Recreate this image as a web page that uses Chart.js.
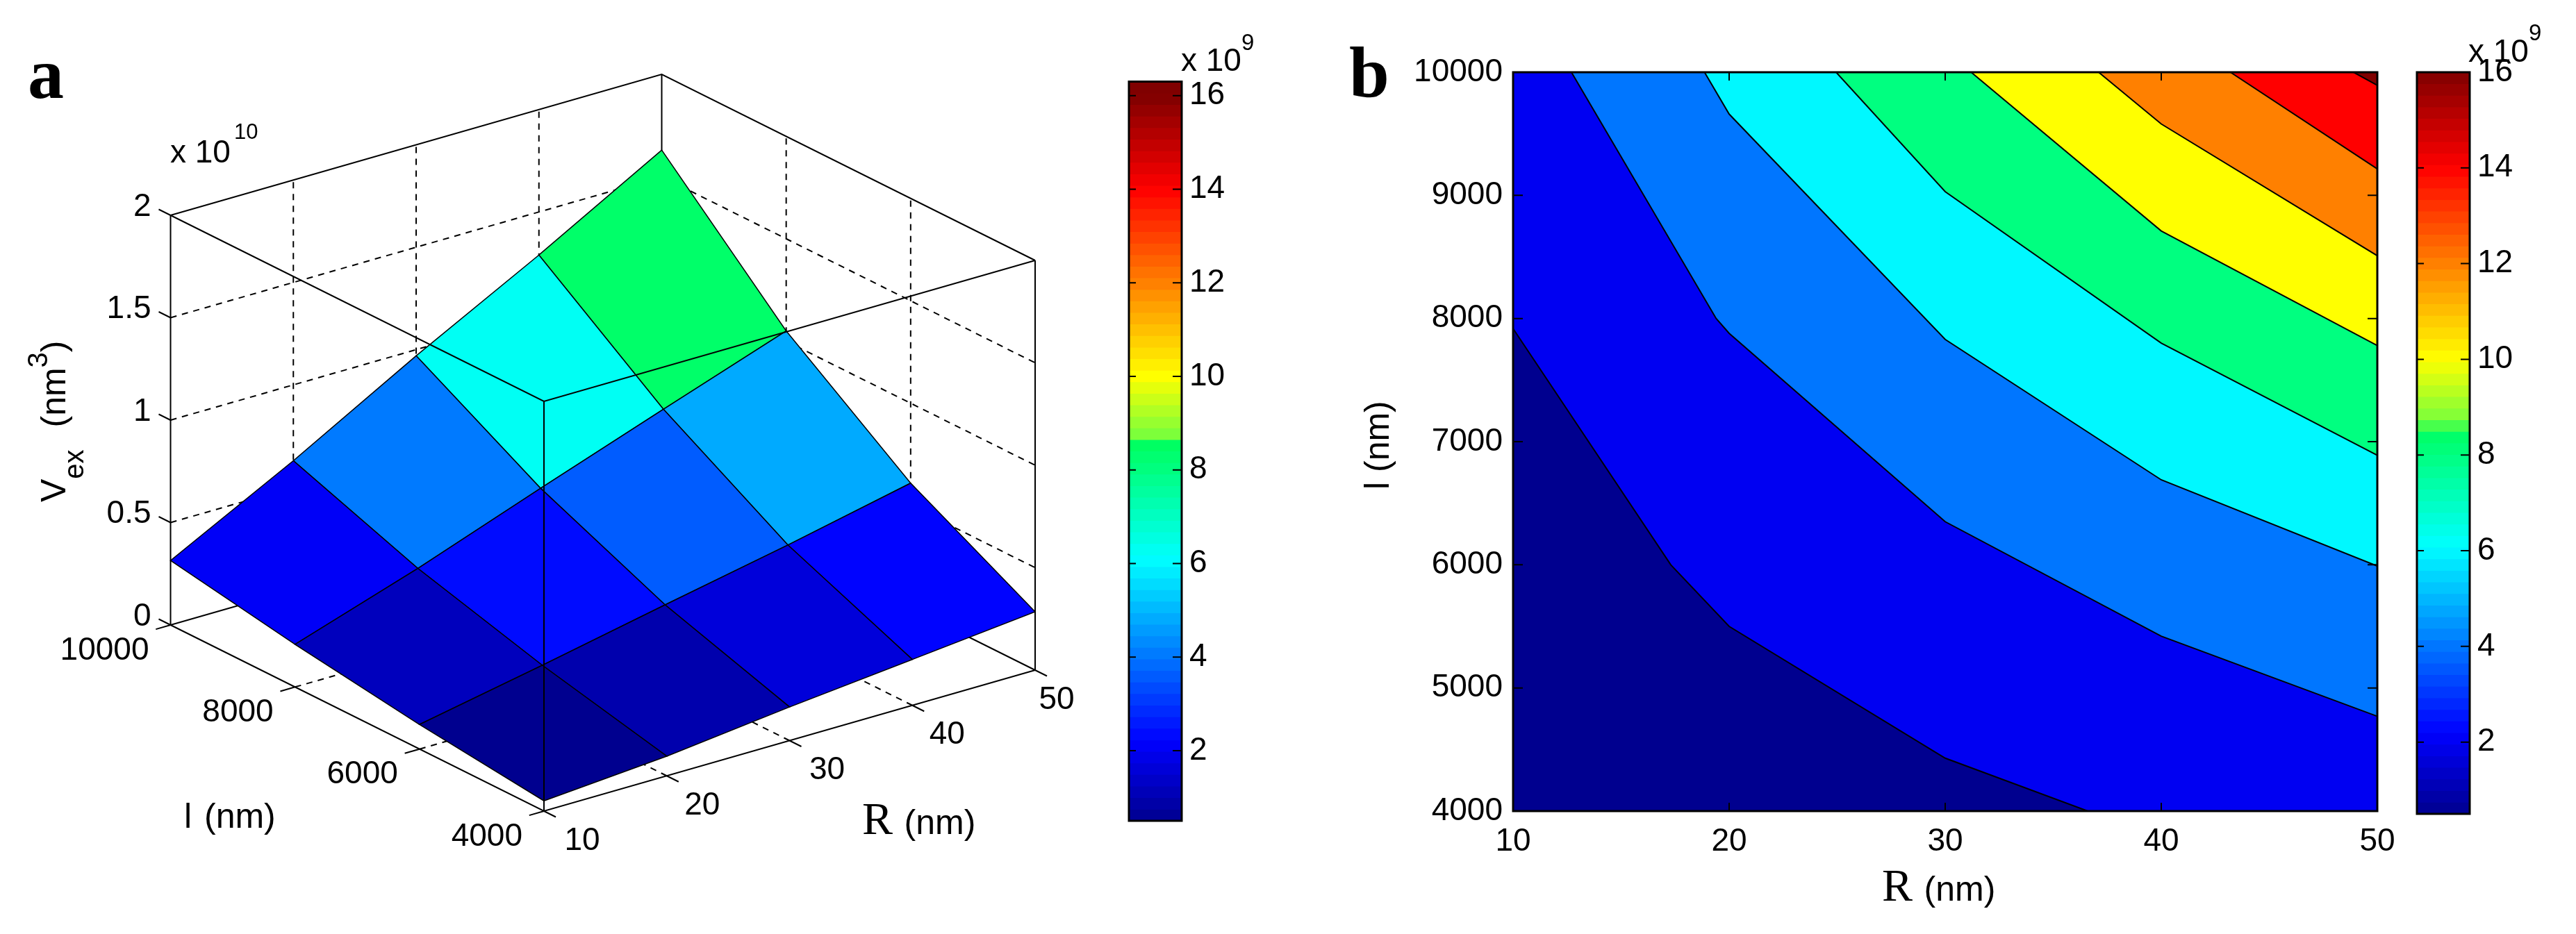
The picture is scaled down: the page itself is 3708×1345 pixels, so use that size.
<!DOCTYPE html>
<html>
<head>
<meta charset="utf-8">
<title>Vex surface and contour</title>
<script src="https://cdn.jsdelivr.net/npm/chart.js@4"></script>
<style>
  html, body { margin: 0; background: #fff; width: 3708px; height: 1345px; overflow: hidden; }
  canvas { position: absolute; }
  .t { position: absolute; white-space: nowrap; line-height: 1; color: #000; font-family: "Liberation Sans", sans-serif; }
  .t sup, .t sub { line-height: 0; }
  .letter { font: bold 104px/1 "Liberation Serif", serif; }
  .rlab { font: 66px/1 "Liberation Serif", serif; }
  .rlab span { font: 50px/1 "Liberation Sans", sans-serif; }
</style>
</head>
<body>
<canvas id="surface" width="1600" height="1345" style="left:0;top:0"></canvas>
<canvas id="barA" width="260" height="1172" style="left:1610px;top:60px"></canvas>
<canvas id="contour" width="1490" height="1280" style="left:1990px;top:60px"></canvas>
<canvas id="barB" width="243" height="1172" style="left:3465px;top:50px"></canvas>

<div class="t letter" style="left:40px;top:54px">a</div>
<div class="t letter" style="left:1942px;top:52px">b</div>

<div class="t" style="left:245px;top:190px;font-size:46px">x 10<sup style="font-size:31px;vertical-align:34px;margin-left:5px">10</sup></div>
<div class="t" style="left:1700px;top:61px;font-size:46px">x 10<sup style="font-size:33px;vertical-align:30px">9</sup></div>
<div class="t" style="left:3553px;top:47px;font-size:46px">x 10<sup style="font-size:33px;vertical-align:31px">9</sup></div>

<div class="t" style="left:51.5px;top:723px;font-size:50px;word-spacing:18px;transform-origin:0 0;transform:rotate(-90deg)">V<sub style="font-size:40px;vertical-align:-26px">ex</sub> (nm<sup style="font-size:40px;vertical-align:26px">3</sup>)</div>
<div class="t" style="left:265px;top:1150px;font-size:50px;word-spacing:4px">l (nm)</div>
<div class="t rlab" style="left:1241px;top:1146px">R <span>(nm)</span></div>

<div class="t" style="left:1956.5px;top:705px;font-size:50px;transform-origin:0 0;transform:rotate(-90deg)">l (nm)</div>
<div class="t rlab" style="left:2709px;top:1242px">R <span>(nm)</span></div>

<script>
// grid of the surface (panel a)
const radius = [10, 20, 30, 40, 50];
const lengths = [4000, 6000, 8000, 10000];
// Vex in units of 1e9 nm3, one row per length
const vex4000 = [0.5, 0.96, 1.64, 2.24, 2.85];
const vex6000 = [1.2, 2.37, 3.6, 4.8, 6.1];
const vex8000 = [2.08, 4.07, 6.26, 8.4, 10.5];
const vex10000 = [3.15, 6.3, 9.7, 12.9, 16.3];
const vexRows = [vex4000, vex6000, vex8000, vex10000];

// axis ticks
const zTicks = [0, 5, 10, 15, 20];
const zLabels = ['0', '0.5', '1', '1.5', '2'];
const rTicks = [10, 20, 30, 40, 50];
const lTicks3d = [4000, 6000, 8000, 10000];
const lTicks2d = [4000, 5000, 6000, 7000, 8000, 9000, 10000];
const barTicks = [2, 4, 6, 8, 10, 12, 14, 16];

// contour lines of panel b, R (nm) and l (nm) along each line
const levels = [0.5, 2, 4, 6, 8, 10, 12, 14, 16];
const line1R = [10, 17.3, 20, 30, 36.6];
const line1L = [7918, 6000, 5500, 4430, 4000];
const line2R = [12.7, 19.4, 20, 30, 40, 50];
const line2L = [10000, 8000, 7880, 6350, 5420, 4770];
const line3R = [18.86, 20, 30, 40, 50];
const line3L = [10000, 9660, 7830, 6690, 5990];
const line4R = [24.95, 30, 40, 50];
const line4L = [10000, 9030, 7800, 6890];
const line5R = [31.2, 40, 50];
const line5L = [10000, 8711, 7780];
const line6R = [37.1, 40, 50];
const line6L = [10000, 9580, 8510];
const line7R = [43.2, 50];
const line7L = [10000, 9215];
const line8R = [48.9, 50];
const line8L = [10000, 9894];

// colour map: value (1e9) -> colour
const mapVals = [0.5, 2.2, 6.1, 8, 8.55, 8.65, 10, 12, 14, 16];
const mapCols = [[0,0,143], [0,0,255], [0,255,255], [0,255,128], [0,255,96], [112,255,64], [255,255,0], [255,128,0], [255,0,0], [128,0,0]];

function colourOf(v) {
  let i = 0;
  while (i < mapVals.length - 2 && v > mapVals[i + 1]) i++;
  const f = Math.min(1, Math.max(0, (v - mapVals[i]) / (mapVals[i + 1] - mapVals[i])));
  const c = mapCols[i].map((a, k) => Math.round(a + (mapCols[i + 1][k] - a) * f));
  return `rgb(${c[0]},${c[1]},${c[2]})`;
}

const FONT = '46px "Liberation Sans", sans-serif';
Chart.defaults.font.family = '"Liberation Sans", sans-serif';

// ---------- panel a: view of the 3D box, MATLAB style orthographic
const viewOrigin = [783, 1168];
const viewR = [707, -203];
const viewL = [-537.5, -268];
const viewZ = [0, -590];

function project(r, l, z) {
  const a = (r - 10) / 40, b = (l - 4000) / 6000, c = z / 20;
  return {
    x: viewOrigin[0] + a * viewR[0] + b * viewL[0] + c * viewZ[0],
    y: viewOrigin[1] + a * viewR[1] + b * viewL[1] + c * viewZ[1]
  };
}

const surfaceSets = [];
function addLine(pts, dash, width) {
  surfaceSets.push({
    data: pts.map(p => project(p[0], p[1], p[2])),
    showLine: true, pointRadius: 0, borderColor: '#000',
    borderWidth: width || 2, borderDash: dash || [], fill: false, tension: 0
  });
}
const DASH = [9, 8];

// back walls and floor, dashed grid
[20, 30, 40].forEach(r => {
  addLine([[r, 10000, 0], [r, 10000, 20]], DASH);
  addLine([[r, 4000, 0], [r, 10000, 0]], DASH);
});
[6000, 8000].forEach(l => {
  addLine([[50, l, 0], [50, l, 20]], DASH);
  addLine([[10, l, 0], [50, l, 0]], DASH);
});
[5, 10, 15].forEach(z => {
  addLine([[10, 10000, z], [50, 10000, z], [50, 4000, z]], DASH);
});
// back edges of the box
addLine([[10, 10000, 20], [50, 10000, 20], [50, 4000, 20]]);
addLine([[10, 10000, 0], [50, 10000, 0], [50, 4000, 0]]);
addLine([[50, 10000, 0], [50, 10000, 20]]);

// the surface, one flat face per grid cell, coloured by its lowest corner
for (let j = lengths.length - 2; j >= 0; j--) {
  for (let i = radius.length - 2; i >= 0; i--) {
    const corners = [[i, j], [i + 1, j], [i + 1, j + 1], [i, j + 1], [i, j]];
    surfaceSets.push({
      data: corners.map(c => project(radius[c[0]], lengths[c[1]], vexRows[c[1]][c[0]])),
      showLine: true, pointRadius: 0, tension: 0,
      borderColor: '#000', borderWidth: 1.5,
      backgroundColor: colourOf(vexRows[j][i]), fill: 'shape'
    });
  }
}

// front edges and axes
addLine([[10, 10000, 20], [10, 4000, 20], [50, 4000, 20]]);
addLine([[10, 10000, 0], [10, 4000, 0], [50, 4000, 0]]);
addLine([[10, 4000, 0], [10, 4000, 20]], [], 2);
addLine([[10, 10000, 0], [10, 10000, 20]]);
addLine([[50, 4000, 0], [50, 4000, 20]]);
// little ticks outside the box
zTicks.forEach(z => addLine([[10, 10000, z], [10, 10000 + 190, z]]));
rTicks.forEach(r => addLine([[r, 4000, 0], [r, 4000 - 190, 0]]));
lTicks3d.forEach(l => addLine([[10, l, 0], [10 - 1.2, l, 0]]));

surfaceSets.forEach((d, i) => { d.order = surfaceSets.length - i; });

const rLabelDx = [55, 51, 54, 50, 31];

new Chart(document.getElementById('surface'), {
  type: 'scatter',
  data: { datasets: surfaceSets },
  options: {
    responsive: false, animation: false, devicePixelRatio: 1,
    plugins: { legend: { display: false }, tooltip: { enabled: false } },
    layout: { padding: 0 },
    scales: {
      x: { display: false, min: 0, max: 1600 },
      y: { display: false, min: 0, max: 1345, reverse: true }
    }
  },
  plugins: [{
    id: 'labels3d',
    afterDraw(chart) {
      const { ctx, scales } = chart;
      const at = (p, dx, dy) => [scales.x.getPixelForValue(p.x) + dx, scales.y.getPixelForValue(p.y) + dy];
      ctx.save();
      ctx.fillStyle = '#000';
      ctx.font = FONT;
      ctx.textBaseline = 'middle';
      ctx.textAlign = 'right';
      zTicks.forEach((z, i) => {
        const q = at(project(10, 10000, z), -28, -12);
        ctx.fillText(zLabels[i], q[0], q[1]);
      });
      lTicks3d.forEach(l => {
        const q = at(project(10, l, 0), -31, 37);
        ctx.fillText(String(l), q[0], q[1]);
      });
      ctx.textAlign = 'center';
      rTicks.forEach((r, i) => {
        const q = at(project(r, 4000, 0), rLabelDx[i], 43);
        ctx.fillText(String(r), q[0], q[1]);
      });
      ctx.restore();
    }
  }]
});

// ---------- box with inward ticks, shared by panel b and the colour bars
function boxTicks(xVals, yVals, lenLeft, lenRight, lenV) {
  return {
    id: 'boxTicks',
    afterDatasetsDraw(chart) {
      const { ctx, chartArea: a, scales } = chart;
      ctx.save();
      ctx.strokeStyle = '#000';
      ctx.lineWidth = 2;
      ctx.beginPath();
      yVals.forEach(v => {
        const y = scales.y.getPixelForValue(v);
        ctx.moveTo(a.left, y); ctx.lineTo(a.left + lenLeft, y);
        ctx.moveTo(a.right, y); ctx.lineTo(a.right - lenRight, y);
      });
      xVals.forEach(v => {
        const x = scales.x.getPixelForValue(v);
        ctx.moveTo(x, a.top); ctx.lineTo(x, a.top + lenV);
        ctx.moveTo(x, a.bottom); ctx.lineTo(x, a.bottom - lenV);
      });
      ctx.stroke();
      ctx.lineWidth = 3;
      ctx.strokeRect(a.left, a.top, a.right - a.left, a.bottom - a.top);
      ctx.restore();
    }
  };
}

// ---------- colour bars, 64 floating bars
function colourBar(id, barMin, barMax, pad, axisWidth) {
  const n = 64, step = (barMax - barMin) / n, sets = [];
  for (let i = 0; i < n; i++) {
    const lo = barMin + i * step;
    sets.push({
      data: [[lo, Math.min(barMax, lo + step * 1.3)]],
      backgroundColor: colourOf(lo + step / 2),
      order: n - i, barPercentage: 1, categoryPercentage: 1, grouped: false
    });
  }
  new Chart(document.getElementById(id), {
    type: 'bar',
    data: { labels: ['Vex'], datasets: sets },
    options: {
      responsive: false, animation: false, devicePixelRatio: 1,
      plugins: { legend: { display: false }, tooltip: { enabled: false } },
      layout: { padding: pad },
      scales: {
        x: { display: false, stacked: false },
        y: {
          position: 'right', min: barMin, max: barMax,
          grid: { display: false }, border: { display: false },
          afterBuildTicks(s) { s.ticks = barTicks.map(v => ({ value: v })); },
          afterFit(s) { s.width = axisWidth; },
          ticks: { color: '#000', padding: 3, font: { size: 46 }, callback: v => String(v), autoSkip: false }
        }
      }
    },
    plugins: [boxTicks([], barTicks, 10, 13, 0)]
  });
}
colourBar('barA', 0.5, 16.3, { left: 15, top: 57.5, right: 0, bottom: 50 }, 169);
colourBar('barB', 0.5, 16, { left: 14, top: 54, right: 0, bottom: 50 }, 153);

// ---------- panel b: filled contours
const R_MIN = 10, R_MAX = 50, L_MIN = 4000, L_MAX = 10000;
const contourLines = [
  [line1R, line1L], [line2R, line2L], [line3R, line3L], [line4R, line4L],
  [line5R, line5L], [line6R, line6L], [line7R, line7L], [line8R, line8L]
];

function bandPolygon(rs, ls) {
  const pts = rs.map((r, i) => ({ x: r, y: ls[i] }));
  if (ls[ls.length - 1] === L_MIN) pts.push({ x: R_MAX, y: L_MIN });
  pts.push({ x: R_MAX, y: L_MAX });
  if (rs[0] === R_MIN) pts.push({ x: R_MIN, y: L_MAX });
  pts.push(pts[0]);
  return pts;
}

const bandSets = [{
  data: [{ x: R_MIN, y: L_MIN }, { x: R_MAX, y: L_MIN }, { x: R_MAX, y: L_MAX }, { x: R_MIN, y: L_MAX }, { x: R_MIN, y: L_MIN }],
  showLine: true, pointRadius: 0, tension: 0, borderWidth: 0,
  backgroundColor: colourOf(levels[0]), fill: 'shape', order: 100
}];
contourLines.forEach((c, i) => {
  bandSets.push({
    data: bandPolygon(c[0], c[1]),
    showLine: true, pointRadius: 0, tension: 0,
    borderColor: '#000', borderWidth: 2,
    backgroundColor: colourOf(levels[i + 1]), fill: 'shape', order: 99 - i
  });
});

new Chart(document.getElementById('contour'), {
  type: 'scatter',
  data: { datasets: bandSets },
  options: {
    responsive: false, animation: false, devicePixelRatio: 1,
    plugins: { legend: { display: false }, tooltip: { enabled: false } },
    layout: { padding: { left: 0, top: 44, right: 58, bottom: 0 } },
    scales: {
      x: {
        type: 'linear', min: R_MIN, max: R_MAX,
        grid: { display: false }, border: { display: false },
        afterBuildTicks(s) { s.ticks = rTicks.map(v => ({ value: v })); },
        afterFit(s) { s.height = 172; },
        ticks: { color: '#000', padding: 9, maxRotation: 0, autoSkip: false, font: { size: 46 }, callback: v => String(v) }
      },
      y: {
        type: 'linear', min: L_MIN, max: L_MAX,
        grid: { display: false }, border: { display: false },
        afterBuildTicks(s) { s.ticks = lTicks2d.map(v => ({ value: v })); },
        afterFit(s) { s.width = 188; },
        ticks: { color: '#000', padding: 7, autoSkip: false, font: { size: 46 }, callback: v => String(v) }
      }
    }
  },
  plugins: [boxTicks([20, 30, 40], [5000, 6000, 7000, 8000, 9000], 14, 14, 12)]
});
</script>
</body>
</html>
